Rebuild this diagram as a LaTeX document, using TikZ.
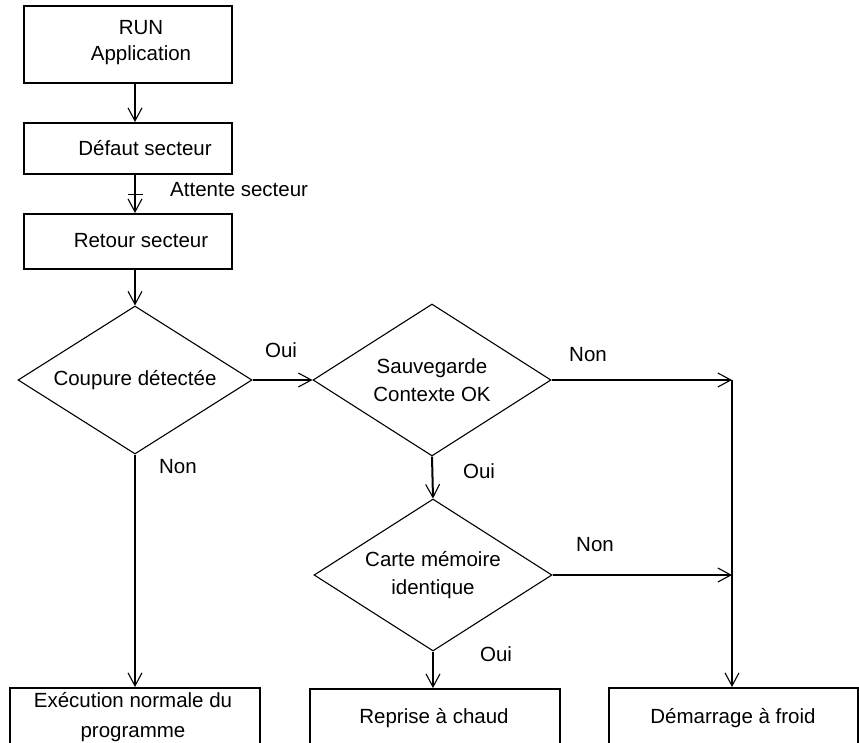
\documentclass[tikz,border=0pt]{standalone}
\usepackage{fontspec}
\setmainfont{Liberation Sans}
\usetikzlibrary{shapes.geometric,arrows.meta}

\tikzset{
  every node/.style={font=\fontsize{20.5}{28}\selectfont},
  boxframe/.style={draw, line width=2.4pt, rectangle, inner sep=0pt, anchor=north west},
  boxtext/.style={align=center, inner sep=0pt},
  decision/.style={draw, line width=1.1pt, diamond, aspect=1.57, inner sep=0pt, align=center},
  flow/.style={line width=2pt, -{Straight Barb[length=13pt, width=14pt, line width=1.1pt]}},
  tag/.style={inner sep=0pt}
}

\begin{document}
\begin{tikzpicture}[x=1pt, y=-1pt]
  \useasboundingbox (0,0) rectangle (859,742);
  \clip (0,0) rectangle (859,742);

  % upper sequence of boxes
  \node[boxframe, minimum width=208pt, minimum height=77pt] (run) at (23,5) {};
  \node[boxtext] (runtxt) at (141,43) {RUN\\[-2pt]Application};
  \node[boxframe, minimum width=208pt, minimum height=51pt] (def) at (23,122) {};
  \node[boxtext] (deftxt) at (145,148) {Défaut secteur};
  \node[boxframe, minimum width=208pt, minimum height=55pt] (ret) at (23,213) {};
  \node[boxtext] (rettxt) at (141,241) {Retour secteur};

  % decisions
  \node[decision, minimum width=234pt, minimum height=148pt] (d1) at (135,380) {Coupure détectée};
  \node[decision, minimum width=238pt, minimum height=152pt] (d2) at (432,380) {Sauvegarde\\Contexte OK};
  \node[decision, minimum width=238pt, minimum height=152pt] (d3) at (433,575) {Carte mémoire\\identique};

  % final boxes, running past the lower edge
  \node[boxframe, minimum width=250pt, minimum height=62pt] (exe) at (9,687) {};
  \node[boxtext, font=\fontsize{20.5}{30}\selectfont] (exetxt) at (133,717) {Exécution normale du\\programme};
  \node[boxframe, minimum width=250pt, minimum height=62pt] (rep) at (309,688) {};
  \node[boxtext] (reptxt) at (434,718) {Reprise à chaud};
  \node[boxframe, minimum width=249pt, minimum height=62pt] (dem) at (608,687) {};
  \node[boxtext] (demtxt) at (733,718) {Démarrage à froid};

  % junction column on the right
  \coordinate (j1) at (732,380);
  \coordinate (j2) at (732,575);

  % connectors
  \draw[flow] (run.south -| d1.north) -- (def.north -| d1.north);
  \draw[flow] (def.south -| d1.north) -- (ret.north -| d1.north);
  \draw[line width=1.6pt] ([xshift=-7pt]def.south -| d1.north) ++(0,19) coordinate (tickl) -- ++(15,0) coordinate (tickr);
  \draw[flow] (ret.south -| d1.north) -- (d1.north);
  \draw[flow] (d1.east) -- (d2.west);
  \draw[flow] (d1.south) -- (d1.south |- exe.north);
  \draw[flow] (d2.east) -- (j1);
  \draw[flow] (d2.south) -- (d3.north);
  \draw[flow] (d3.east) -- (j2);
  \draw[flow] (d3.south) -- (d3.south |- rep.north);
  \draw[flow] (j1) -- (j1 |- dem.north);

  % labels
  \node[tag, anchor=west] (attente) at (170,190) {Attente secteur};
  \node[tag] (oui1) at (281,350) {Oui};
  \node[tag] (non1) at (178,467) {Non};
  \node[tag] (non2) at (588,355) {Non};
  \node[tag] (oui2) at (479,471) {Oui};
  \node[tag] (non3) at (595,545) {Non};
  \node[tag] (oui3) at (496,654) {Oui};
\end{tikzpicture}
\end{document}
